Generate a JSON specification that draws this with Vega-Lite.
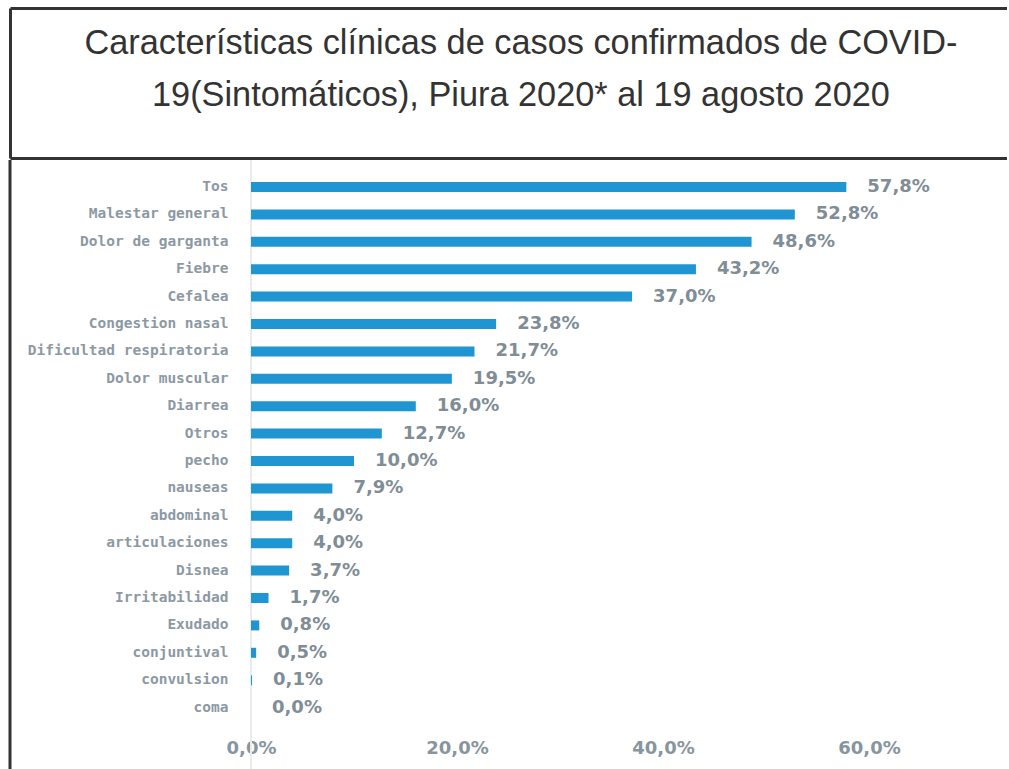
{
  "$schema": "https://vega.github.io/schema/vega-lite/v6.json",
  "padding": {"left": 8, "top": 8, "right": 0, "bottom": 0},
  "autosize": {"type": "pad"},
  "spacing": 0,
  "background": "white",
  "config": {
    "view": {"stroke": null},
    "locale": {"number": {"decimal": ",", "thousands": ".", "grouping": [3], "currency": ["", ""]}}
  },
  "vconcat": [
    {
      "width": 997,
      "height": 150,
      "data": {"values": [
        {"row": 1, "line": "Características clínicas de casos confirmados de COVID-"},
        {"row": 2, "line": "19(Sintomáticos), Piura 2020* al 19 agosto 2020"}
      ]},
      "layer": [
        {
          "mark": {"type": "text", "font": "Liberation Sans", "fontSize": 34.3, "color": "#333333", "baseline": "middle", "align": "center"},
          "encoding": {
            "x": {"datum": 0.5125, "type": "quantitative", "scale": {"domain": [0, 1]},
                  "axis": {"orient": "top", "domain": true, "domainColor": "#333333", "domainWidth": 3, "labels": false, "ticks": false, "grid": false, "title": null}},
            "y": {"field": "row", "type": "ordinal", "scale": {"type": "point", "padding": 0.942, "align": 0.367},
                  "axis": {"domain": true, "domainColor": "#333333", "domainWidth": 3, "labels": false, "ticks": false, "grid": false, "title": null}},
            "text": {"field": "line"}
          }
        },
        {
          "mark": {"type": "text", "text": ""},
          "encoding": {
            "x": {"datum": 0.5, "type": "quantitative", "scale": {"domain": [0, 1]},
                  "axis": {"orient": "bottom", "domain": true, "domainColor": "#333333", "domainWidth": 3, "labels": false, "ticks": false, "grid": false, "title": null}}
          }
        }
      ],
      "resolve": {"axis": {"x": "independent"}}
    },
    {
      "width": 997,
      "height": 609,
      "data": {"values": [
        {"sintoma": "Tos", "pct": 0.578},
        {"sintoma": "Malestar general", "pct": 0.528},
        {"sintoma": "Dolor de garganta", "pct": 0.486},
        {"sintoma": "Fiebre", "pct": 0.432},
        {"sintoma": "Cefalea", "pct": 0.370},
        {"sintoma": "Congestion nasal", "pct": 0.238},
        {"sintoma": "Dificultad respiratoria", "pct": 0.217},
        {"sintoma": "Dolor muscular", "pct": 0.195},
        {"sintoma": "Diarrea", "pct": 0.160},
        {"sintoma": "Otros", "pct": 0.127},
        {"sintoma": "pecho", "pct": 0.100},
        {"sintoma": "nauseas", "pct": 0.079},
        {"sintoma": "abdominal", "pct": 0.040},
        {"sintoma": "articulaciones", "pct": 0.040},
        {"sintoma": "Disnea", "pct": 0.037},
        {"sintoma": "Irritabilidad", "pct": 0.017},
        {"sintoma": "Exudado", "pct": 0.008},
        {"sintoma": "conjuntival", "pct": 0.005},
        {"sintoma": "convulsion", "pct": 0.001},
        {"sintoma": "coma", "pct": 0.000}
      ]},
      "layer": [
        {
          "data": {"values": [{}]},
          "mark": {"type": "rule", "color": "#ebebeb", "strokeWidth": 2},
          "encoding": {
            "x": {"datum": 0, "type": "quantitative", "scale": {"domain": [-0.234, 0.734], "nice": false, "zero": false}}
          }
        },
        {
          "data": {"values": [{}]},
          "mark": {"type": "rule", "color": "#333333", "strokeWidth": 3},
          "encoding": {
            "x": {"datum": -0.234, "type": "quantitative"}
          }
        },
        {
          "mark": {"type": "bar", "color": "#1f96d2"},
          "encoding": {
            "y": {"field": "sintoma", "type": "nominal", "sort": null,
                  "scale": {"range": [22, 552.6], "paddingInner": 0.635, "paddingOuter": 0},
                  "axis": {"title": null, "domain": false, "ticks": false, "tickSize": 0,
                           "labelPadding": -218, "labelAlign": "right", "labelLimit": 0, "labelFont": "DejaVu Sans Mono", "labelFontWeight": "bold", "labelFontSize": 14.5,
                           "labelColor": "#8c99a3", "grid": false}},
            "x": {"field": "pct", "type": "quantitative", "scale": {"domain": [-0.234, 0.734], "nice": false, "zero": false},
                  "axis": {"title": null, "values": [0, 0.2, 0.4, 0.6], "format": ".1%", "domain": false, "ticks": false, "tickSize": 0, "grid": false,
                           "offset": -30, "labelPadding": 0, "labelFont": "DejaVu Sans", "labelFontWeight": "bold", "labelFontSize": 18, "labelColor": "#87959e"}}
          }
        },
        {
          "mark": {"type": "text", "align": "left", "baseline": "middle", "dx": 21, "font": "DejaVu Sans", "fontWeight": "bold", "fontSize": 18, "color": "#7f8d96"},
          "encoding": {
            "y": {"field": "sintoma", "type": "nominal", "sort": null},
            "x": {"field": "pct", "type": "quantitative"},
            "text": {"field": "pct", "format": ".1%"}
          }
        }
      ]
    }
  ]
}
